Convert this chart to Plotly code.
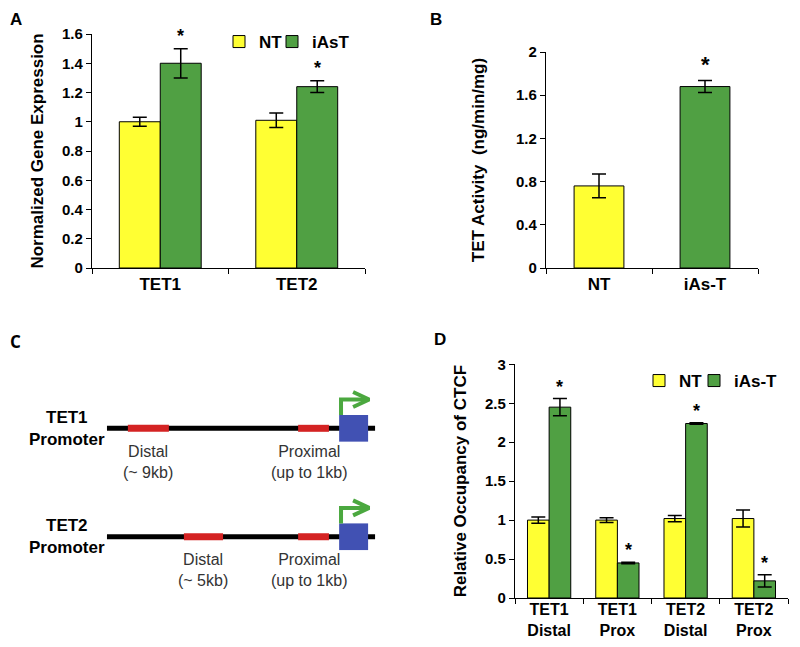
import plotly.graph_objects as go

# the page body adds an 8px margin, so the figure is 8px smaller and positions are shifted
OFF = 8
W, H = 800 - OFF, 647 - OFF

# ---------------- data ----------------
# Panel A
a_genes = ["TET1", "TET2"]
a_nt = [1.00, 1.01]
a_nt_err = [0.03, 0.05]
a_ias = [1.40, 1.24]
a_ias_err = [0.10, 0.04]

# Panel B
b_groups = ["NT", "iAs-T"]
b_vals = [0.76, 1.68]
b_err = [0.11, 0.055]

# Panel D
d_regions = ["TET1<br>Distal", "TET1<br>Prox", "TET2<br>Distal", "TET2<br>Prox"]
d_nt = [1.00, 1.00, 1.02, 1.02]
d_nt_err = [0.04, 0.03, 0.04, 0.11]
d_ias = [2.45, 0.45, 2.24, 0.22]
d_ias_err = [0.11, 0.01, 0.01, 0.08]

# Panel C schematic (schematic units along the promoter)
c_promoters = ["TET1<br>Promoter", "TET2<br>Promoter"]
c_line = [0, 100]
c_distal_start = [7.8, 28.7]
c_distal_end = [23.1, 43.3]
c_distal_label = ["Distal<br>(~ 9kb)", "Distal<br>(~ 5kb)"]
c_prox_start = [71.3, 71.3]
c_prox_end = [82.8, 82.8]
c_prox_label = ["Proximal<br>(up to 1kb)", "Proximal<br>(up to 1kb)"]
c_tss_start = [86.6, 86.6]
c_tss_end = [97.4, 97.4]

# ---------------- style ----------------
YELLOW = "#FFFF33"
GREEN = "#50A043"
RED = "#D42323"
BLUE = "#4151B3"
ARROW = "#4BA83F"
FONT = "Liberation Sans"

def px_x(p):
    return (p - OFF) / W

def px_y(p):
    return 1 - (p - OFF) / H

fig = go.Figure()

err_style = dict(type="data", color="black", thickness=1.5, width=7)
bar_line = dict(color="black", width=1)

# ---- Panel A ----
wA = 0.30
fig.add_trace(go.Bar(x=a_genes, y=a_nt, name="NT", width=wA, offset=-wA,
                     marker=dict(color=YELLOW, line=bar_line),
                     error_y=dict(array=a_nt_err, **err_style),
                     xaxis="x", yaxis="y", legend="legend"))
fig.add_trace(go.Bar(x=a_genes, y=a_ias, name="iAsT", width=wA, offset=0,
                     marker=dict(color=GREEN, line=bar_line),
                     error_y=dict(array=a_ias_err, **err_style),
                     xaxis="x", yaxis="y", legend="legend3"))

# ---- Panel B ----
wB = 0.47
fig.add_trace(go.Bar(x=b_groups, y=b_vals, width=wB, showlegend=False,
                     marker=dict(color=[YELLOW, GREEN], line=bar_line),
                     error_y=dict(array=b_err, **err_style),
                     xaxis="x2", yaxis="y2"))

# ---- Panel D ----
wD = 0.317
fig.add_trace(go.Bar(x=d_regions, y=d_nt, name="NT", width=wD, offset=-wD,
                     marker=dict(color=YELLOW, line=bar_line),
                     error_y=dict(array=d_nt_err, **err_style),
                     xaxis="x4", yaxis="y4", legend="legend2"))
fig.add_trace(go.Bar(x=d_regions, y=d_ias, name="iAs-T", width=wD, offset=0,
                     marker=dict(color=GREEN, line=bar_line),
                     error_y=dict(array=d_ias_err, **err_style),
                     xaxis="x4", yaxis="y4", legend="legend4"))

# ---- Panel C schematic ----
for r in range(len(c_promoters)):
    fig.add_trace(go.Scatter(x=c_line, y=[r, r], mode="lines",
                             line=dict(color="black", width=5),
                             showlegend=False, hoverinfo="skip",
                             xaxis="x3", yaxis="y3"))
    for s, e in ((c_distal_start[r], c_distal_end[r]), (c_prox_start[r], c_prox_end[r])):
        fig.add_trace(go.Scatter(x=[s, e], y=[r, r], mode="lines",
                                 line=dict(color=RED, width=7),
                                 showlegend=False, hoverinfo="skip",
                                 xaxis="x3", yaxis="y3"))
    s, e = c_tss_start[r], c_tss_end[r]
    hh = 0.123
    fig.add_trace(go.Scatter(x=[s, e, e, s, s], y=[r - hh, r - hh, r + hh, r + hh, r - hh],
                             mode="lines", fill="toself", fillcolor=BLUE,
                             line=dict(color=BLUE, width=0),
                             showlegend=False, hoverinfo="skip",
                             xaxis="x3", yaxis="y3"))
    ay = r - 0.266
    fig.add_trace(go.Scatter(x=[s + 0.7, s + 0.7, e - 0.4], y=[r - hh, ay, ay],
                             mode="lines", line=dict(color=ARROW, width=4),
                             showlegend=False, hoverinfo="skip",
                             xaxis="x3", yaxis="y3"))
    fig.add_trace(go.Scatter(x=[e - 5.6, e + 0.4, e - 5.6], y=[ay - 0.069, ay, ay + 0.069],
                             mode="lines", line=dict(color=ARROW, width=4),
                             showlegend=False, hoverinfo="skip",
                             xaxis="x3", yaxis="y3"))

annotations = []
for r, name in enumerate(c_promoters):
    annotations.append(dict(x=-14.9, y=r, xref="x3", yref="y3", text=name, showarrow=False,
                            font=dict(family=FONT, size=17, color="black", weight="bold"),
                            xanchor="center", yanchor="middle"))
    annotations.append(dict(x=(c_distal_start[r] + c_distal_end[r]) / 2, y=r + 0.31,
                            xref="x3", yref="y3", text=c_distal_label[r], showarrow=False,
                            font=dict(family=FONT, size=16, color="#333333"),
                            xanchor="center", yanchor="middle"))
    annotations.append(dict(x=(c_prox_start[r] + c_prox_end[r]) / 2, y=r + 0.31,
                            xref="x3", yref="y3", text=c_prox_label[r], showarrow=False,
                            xshift=-5,
                            font=dict(family=FONT, size=16, color="#333333"),
                            xanchor="center", yanchor="middle"))

# significance asterisks above the treated bars
star_font = dict(family=FONT, size=18, color="black", weight="bold")
for i in range(len(a_genes)):
    annotations.append(dict(x=i + wA / 2, y=a_ias[i] + a_ias_err[i], xref="x", yref="y",
                            text="*", showarrow=False, yanchor="bottom", yshift=1,
                            font=star_font))
annotations.append(dict(x=1, y=b_vals[1] + b_err[1], xref="x2", yref="y2",
                        text="*", showarrow=False, yanchor="bottom", yshift=2,
                        font=dict(family=FONT, size=22, color="black", weight="bold")))
for i in range(len(d_regions)):
    annotations.append(dict(x=i + wD / 2, y=d_ias[i] + d_ias_err[i], xref="x4", yref="y4",
                            text="*", showarrow=False, yanchor="bottom", yshift=0,
                            font=star_font))

# panel letters
for letter, x, y, fam in (("A", OFF, OFF, FONT), ("B", 428, OFF, FONT),
                          ("C", OFF, 328, "Open Sans"), ("D", 432, 328, FONT)):
    annotations.append(dict(x=px_x(x), y=px_y(y), xref="paper", yref="paper", text=letter,
                            showarrow=False, xanchor="left", yanchor="top",
                            font=dict(family=fam, size=17, color="black", weight="bold")))

tick_font = dict(family=FONT, size=15, color="black", weight="bold")
xtick_font = dict(family=FONT, size=17, color="black", weight="bold")
title_font = dict(family=FONT, size=17, color="black", weight="bold")
legend_font = dict(family=FONT, size=17, color="black", weight="bold")

def yax(domain, anchor, rng, dtick, title, standoff):
    return dict(domain=domain, anchor=anchor, range=rng, dtick=dtick, showgrid=False,
                zeroline=False, automargin=False,
                showline=True, linecolor="black", linewidth=1.2, ticks="outside",
                ticklen=5, tickcolor="black", tickfont=tick_font,
                title=dict(text=title, font=title_font, standoff=standoff))

def xax(domain, anchor, font=xtick_font, standoff=0):
    return dict(domain=domain, anchor=anchor, type="category", tickson="boundaries",
                showgrid=False, zeroline=False, showline=True, linecolor="black",
                automargin=False, ticklabelstandoff=standoff,
                linewidth=1.2, ticks="outside", ticklen=5, tickcolor="black",
                tickfont=font)

def leg(x_px, y_px):
    return dict(x=px_x(x_px), y=px_y(y_px), xanchor="left", yanchor="middle",
                orientation="h", bgcolor="rgba(0,0,0,0)", itemwidth=30,
                font=legend_font, itemclick=False)

fig.update_layout(
    width=W, height=H, margin=dict(l=0, r=0, t=0, b=0, autoexpand=False),
    paper_bgcolor="white", plot_bgcolor="white",
    font=dict(family=FONT, color="black"),
    xaxis=xax([px_x(92), px_x(365)], "y"),
    yaxis=yax([px_y(268), px_y(34)], "x", [0, 1.6], 0.2, "Normalized Gene Expression", 14),
    xaxis2=xax([px_x(546), px_x(758)], "y2"),
    yaxis2=yax([px_y(268), px_y(52)], "x2", [0, 2], 0.4, "TET Activity  (ng/min/mg)", 27),
    xaxis4=xax([px_x(515), px_x(788)], "y4",
               dict(family=FONT, size=16, color="black", weight="bold"), -3),
    yaxis4=yax([px_y(598), px_y(364.3)], "x4", [0, 3], 0.5, "Relative Occupancy of CTCF", 14),
    xaxis3=dict(domain=[0, px_x(400)], anchor="y3",
                range=[-39.9 + OFF / 2.68, 109.3], visible=False),
    yaxis3=dict(domain=[0, px_y(320)], anchor="x3", range=[2.017, -0.999], visible=False),
    legend=leg(211 + OFF, 42),
    legend3=leg(264 + OFF, 42),
    legend2=leg(631 + OFF, 381),
    legend4=leg(686 + OFF, 381),
    annotations=annotations,
    showlegend=True,
)

fig.write_html("out.html")
